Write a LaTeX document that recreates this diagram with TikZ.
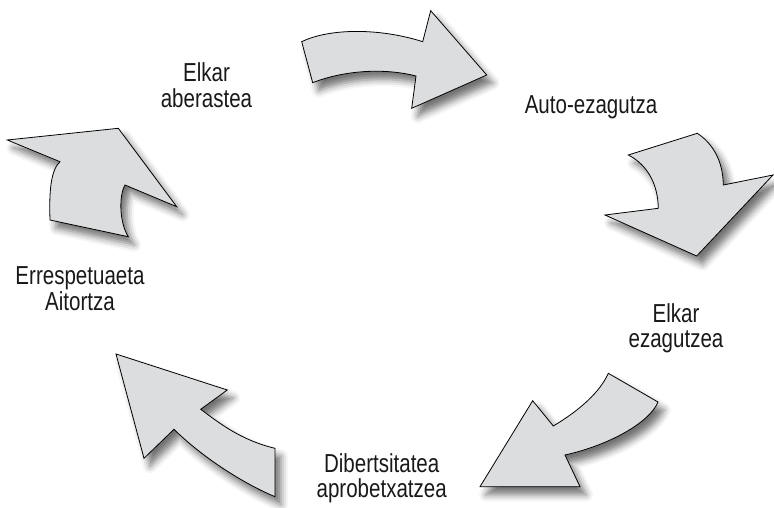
\documentclass[tikz,border=0pt]{standalone}
\usepackage{fontspec}
\setmainfont{Liberation Sans}[FakeStretch=0.79]
\usetikzlibrary{shadows.blur}
\definecolor{arrowfill}{HTML}{DCDDDE}
\tikzset{
  bigarrow/.style={draw=black, line width=0.8pt, fill=arrowfill, line join=miter,
    blur shadow={shadow xshift=6pt, shadow yshift=-8pt, shadow blur radius=7pt, shadow opacity=55}},
  lbl/.style={align=center, anchor=base, inner sep=0pt, text=black!90, font=\fontsize{26}{25.5}\selectfont}
}
\begin{document}
\begin{tikzpicture}[x=1pt, y=-1pt]
\useasboundingbox (0,0) rectangle (774,508);
% top arrow
\path[bigarrow] (301.7,41.7) .. controls (330,28) and (380,28) .. (422.7,41.7) -- (430.7,10.7) -- (486.7,75) -- (411.7,108.3) -- (416,76) .. controls (385,68) and (345,70) .. (312.7,82.7) -- cycle;
% right arrow
\path[bigarrow] (628.3,155) -- (697.3,133.3) .. controls (712,143) and (723,160) .. (723.3,185) -- (773,175) -- (696.7,256) -- (605,215) -- (658.3,208.3) .. controls (658,185) and (648,165) .. (628.3,155) -- cycle;
% bottom-right arrow
\path[bigarrow] (608.3,373.3) -- (658,402) .. controls (650,422) and (610,445) .. (565,455) -- (580,486.7) -- (480,486.7) -- (532.7,400.7) -- (553.3,426) .. controls (580,410) and (600,392) .. (608.3,373.3) -- cycle;
% bottom-left arrow
\path[bigarrow] (116,354) -- (227.3,390) -- (200.7,409.3) .. controls (218,422) and (240,440) .. (275,448.3) -- (275,496.7) .. controls (240,482) and (200,455) .. (174,429.3) -- (144,458.3) -- cycle;
% left arrow
\path[bigarrow] (7.3,140) -- (118.3,128.3) -- (176.7,206.7) -- (125,185) .. controls (119,195) and (119,222) .. (128.3,236.7) -- (50,220) .. controls (49,190) and (51,170) .. (60,161.7) -- cycle;
% labels (anchor = baseline of last line)
\node[lbl] (aberastea) at (206.5,107.5) {Elkar\\aberastea};
\node[lbl] (auto) at (591,113.3) {Auto-ezagutza};
\node[lbl] (ezagutzea) at (676,347.5) {Elkar\\ezagutzea};
\node[lbl] (dibertsitatea) at (381.7,497.5) {Dibertsitatea\\aprobetxatzea};
\node[lbl] (errespetua) at (80,310) {Errespetuaeta\\Aitortza};
\end{tikzpicture}
\end{document}
